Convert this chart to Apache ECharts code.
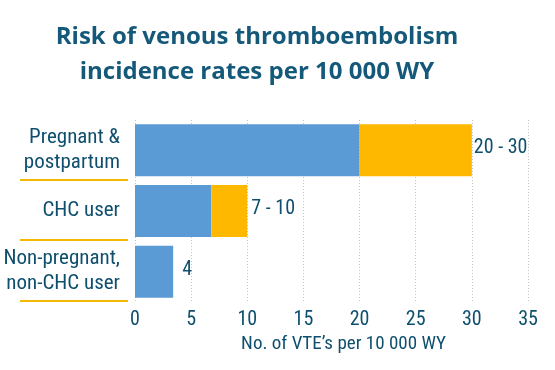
<!DOCTYPE html>
<html><head><meta charset="utf-8">
<script src="https://cdn.jsdelivr.net/npm/echarts@6/dist/echarts.min.js"></script>
<style>html,body{margin:0;padding:0;background:#fff}#c{width:555px;height:370px}</style>
</head><body><div id="c"></div>
<script>
var categories = ["Pregnant &\npostpartum", "CHC user", "Non-pregnant,\nnon-CHC user"];
var lowValues = [20, 6.8, 3.4];
var rangeValues = [10, 3.2, 0];
var valueLabels = ["20 - 30", "7 - 10", "4"];
var xTicks = [0, 5, 10, 15, 20, 25, 30, 35];

var TEXT = "#0f4f6e";
var FONT = "Roboto Condensed";
var labelGap = [2, 4, 9];
var chart = echarts.init(document.getElementById('c'));
chart.setOption({
  animation: false,
  title: {
    text: "Risk of venous thromboembolism\nincidence rates per 10 000 WY",
    left: 252, textAlign: 'center', top: 15,
    textStyle: {color: "#15597a", fontFamily: "Open Sans", fontWeight: 'bold', fontSize: 24, lineHeight: 35}
  },
  grid: {left: 135, right: 27, top: 120, height: 182, containLabel: false},
  xAxis: {
    type: 'value', min: 0, max: 35, interval: 5,
    axisLine: {show: false}, axisTick: {show: false},
    splitLine: {show: true, lineStyle: {color: "#c4c4c4", type: [1, 2], width: 1}},
    axisLabel: {color: TEXT, fontFamily: FONT, fontSize: 20, margin: 8,
      formatter: function (v) { return xTicks.indexOf(v) >= 0 ? String(v) : ''; }},
    name: "No. of VTE’s per 10 000 WY", nameLocation: 'middle', nameGap: 33,
    nameTextStyle: {color: TEXT, fontFamily: FONT, fontSize: 19, padding: [0, 0, 0, 24]}
  },
  yAxis: {
    type: 'category', data: categories, inverse: true,
    axisLine: {show: false}, axisTick: {show: false},
    axisLabel: {color: TEXT, fontFamily: FONT, fontSize: 21, lineHeight: 25, margin: 15, align: 'right'}
  },
  series: [
    {type: 'bar', stack: 's', data: lowValues, barWidth: 52, itemStyle: {color: "#5b9bd5"}},
    {type: 'bar', stack: 's', barWidth: 52, itemStyle: {color: "#ffb800"},
      data: rangeValues.map(function (v, i) { return {value: v, label: {distance: labelGap[i]}}; }),
      label: {show: true, position: 'right', color: TEXT, fontFamily: FONT, fontSize: 20, offset: [0, -2],
        formatter: function (p) { return valueLabels[p.dataIndex]; }}}
  ]
});
// underline decorations below each y-axis category label
var g = [];
for (var i = 0; i < categories.length; i++) {
  var y = chart.convertToPixel({yAxisIndex: 0}, i);
  var half = 182 / categories.length / 2;
  var yy = Math.round(y + half) - 1;
  g.push({type: 'line', shape: {x1: 20, y1: yy, x2: 128, y2: yy}, style: {stroke: "#f5b800", lineWidth: 2}});
}
chart.setOption({graphic: g});
</script></body></html>
